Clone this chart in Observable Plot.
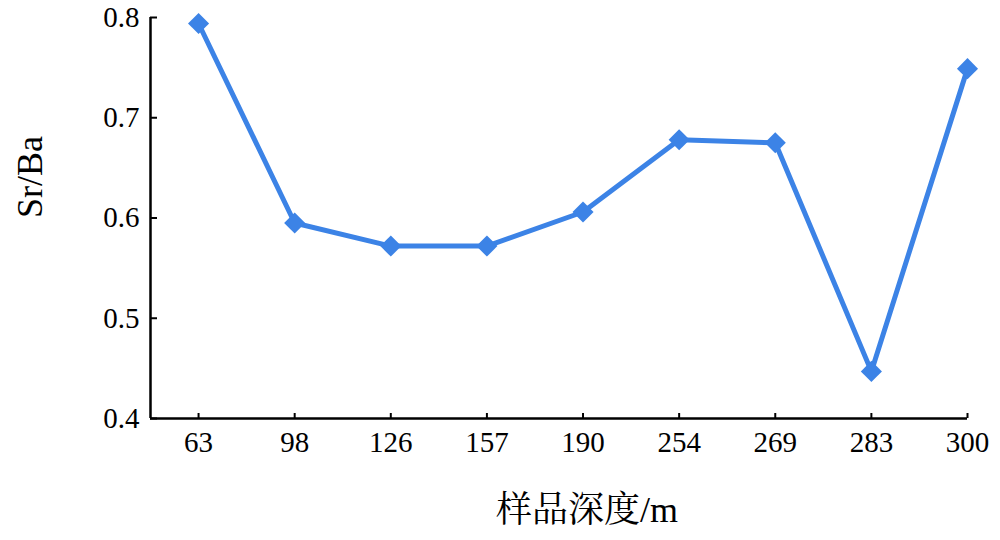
<!DOCTYPE html>
<html>
<head>
<meta charset="utf-8">
<script src="https://cdn.jsdelivr.net/npm/d3@7"></script>
<script src="https://cdn.jsdelivr.net/npm/@observablehq/plot@0.6"></script>
<style>
  html, body { margin: 0; padding: 0; background: white; }
</style>
</head>
<body>
<div id="chart"></div>
<script>
const depths = ["63", "98", "126", "157", "190", "254", "269", "283", "300"];
const srba = [0.794, 0.595, 0.572, 0.572, 0.606, 0.678, 0.675, 0.447, 0.749];
const yTicks = [0.4, 0.5, 0.6, 0.7, 0.8];
const xTitle = "样品深度/m";
const yTitle = "Sr/Ba";

const data = depths.map((d, i) => ({i, depth: d, v: srba[i]}));
const idx = d3.range(depths.length);
const blue = "#3c83e6";
const font = "'Liberation Serif', 'Noto Serif CJK SC', 'Noto Sans CJK SC', serif";

const chart = Plot.plot({
  width: 1000,
  height: 540,
  marginLeft: 150,
  marginRight: 33,
  marginTop: 17,
  marginBottom: 122,
  style: {fontFamily: font, fontSize: "29px", background: "white", color: "black", overflow: "visible"},
  x: {type: "linear", domain: [-0.5, depths.length - 1], axis: null},
  y: {domain: [0.4, 0.8], axis: null},
  marks: [
    Plot.axisY({ticks: yTicks, tickFormat: d3.format(".1f"), tickSize: -7, tickPadding: 18, strokeWidth: 2, label: null}),
    Plot.axisX({ticks: idx, tickFormat: i => depths[i], tickSize: -5, tickPadding: 18, strokeWidth: 2, label: null}),
    Plot.ruleX([-0.5], {stroke: "black", strokeWidth: 2.5}),
    Plot.ruleY([0.4], {stroke: "black", strokeWidth: 2.5}),
    Plot.line(data, {x: "i", y: "v", stroke: blue, strokeWidth: 5}),
    Plot.dot(data, {x: "i", y: "v", symbol: "diamond2", r: 9.5, fill: blue, stroke: "none"}),
    Plot.text([yTitle], {frameAnchor: "left", text: d => d, rotate: -90, dx: -120, dy: -41, fontSize: 36, textAnchor: "middle", lineAnchor: "middle"}),
    Plot.text([xTitle], {frameAnchor: "bottom", text: d => d, dx: 28, dy: 92, fontSize: 36, textAnchor: "middle", lineAnchor: "middle"})
  ]
});
document.getElementById("chart").appendChild(chart);
</script>
</body>
</html>
